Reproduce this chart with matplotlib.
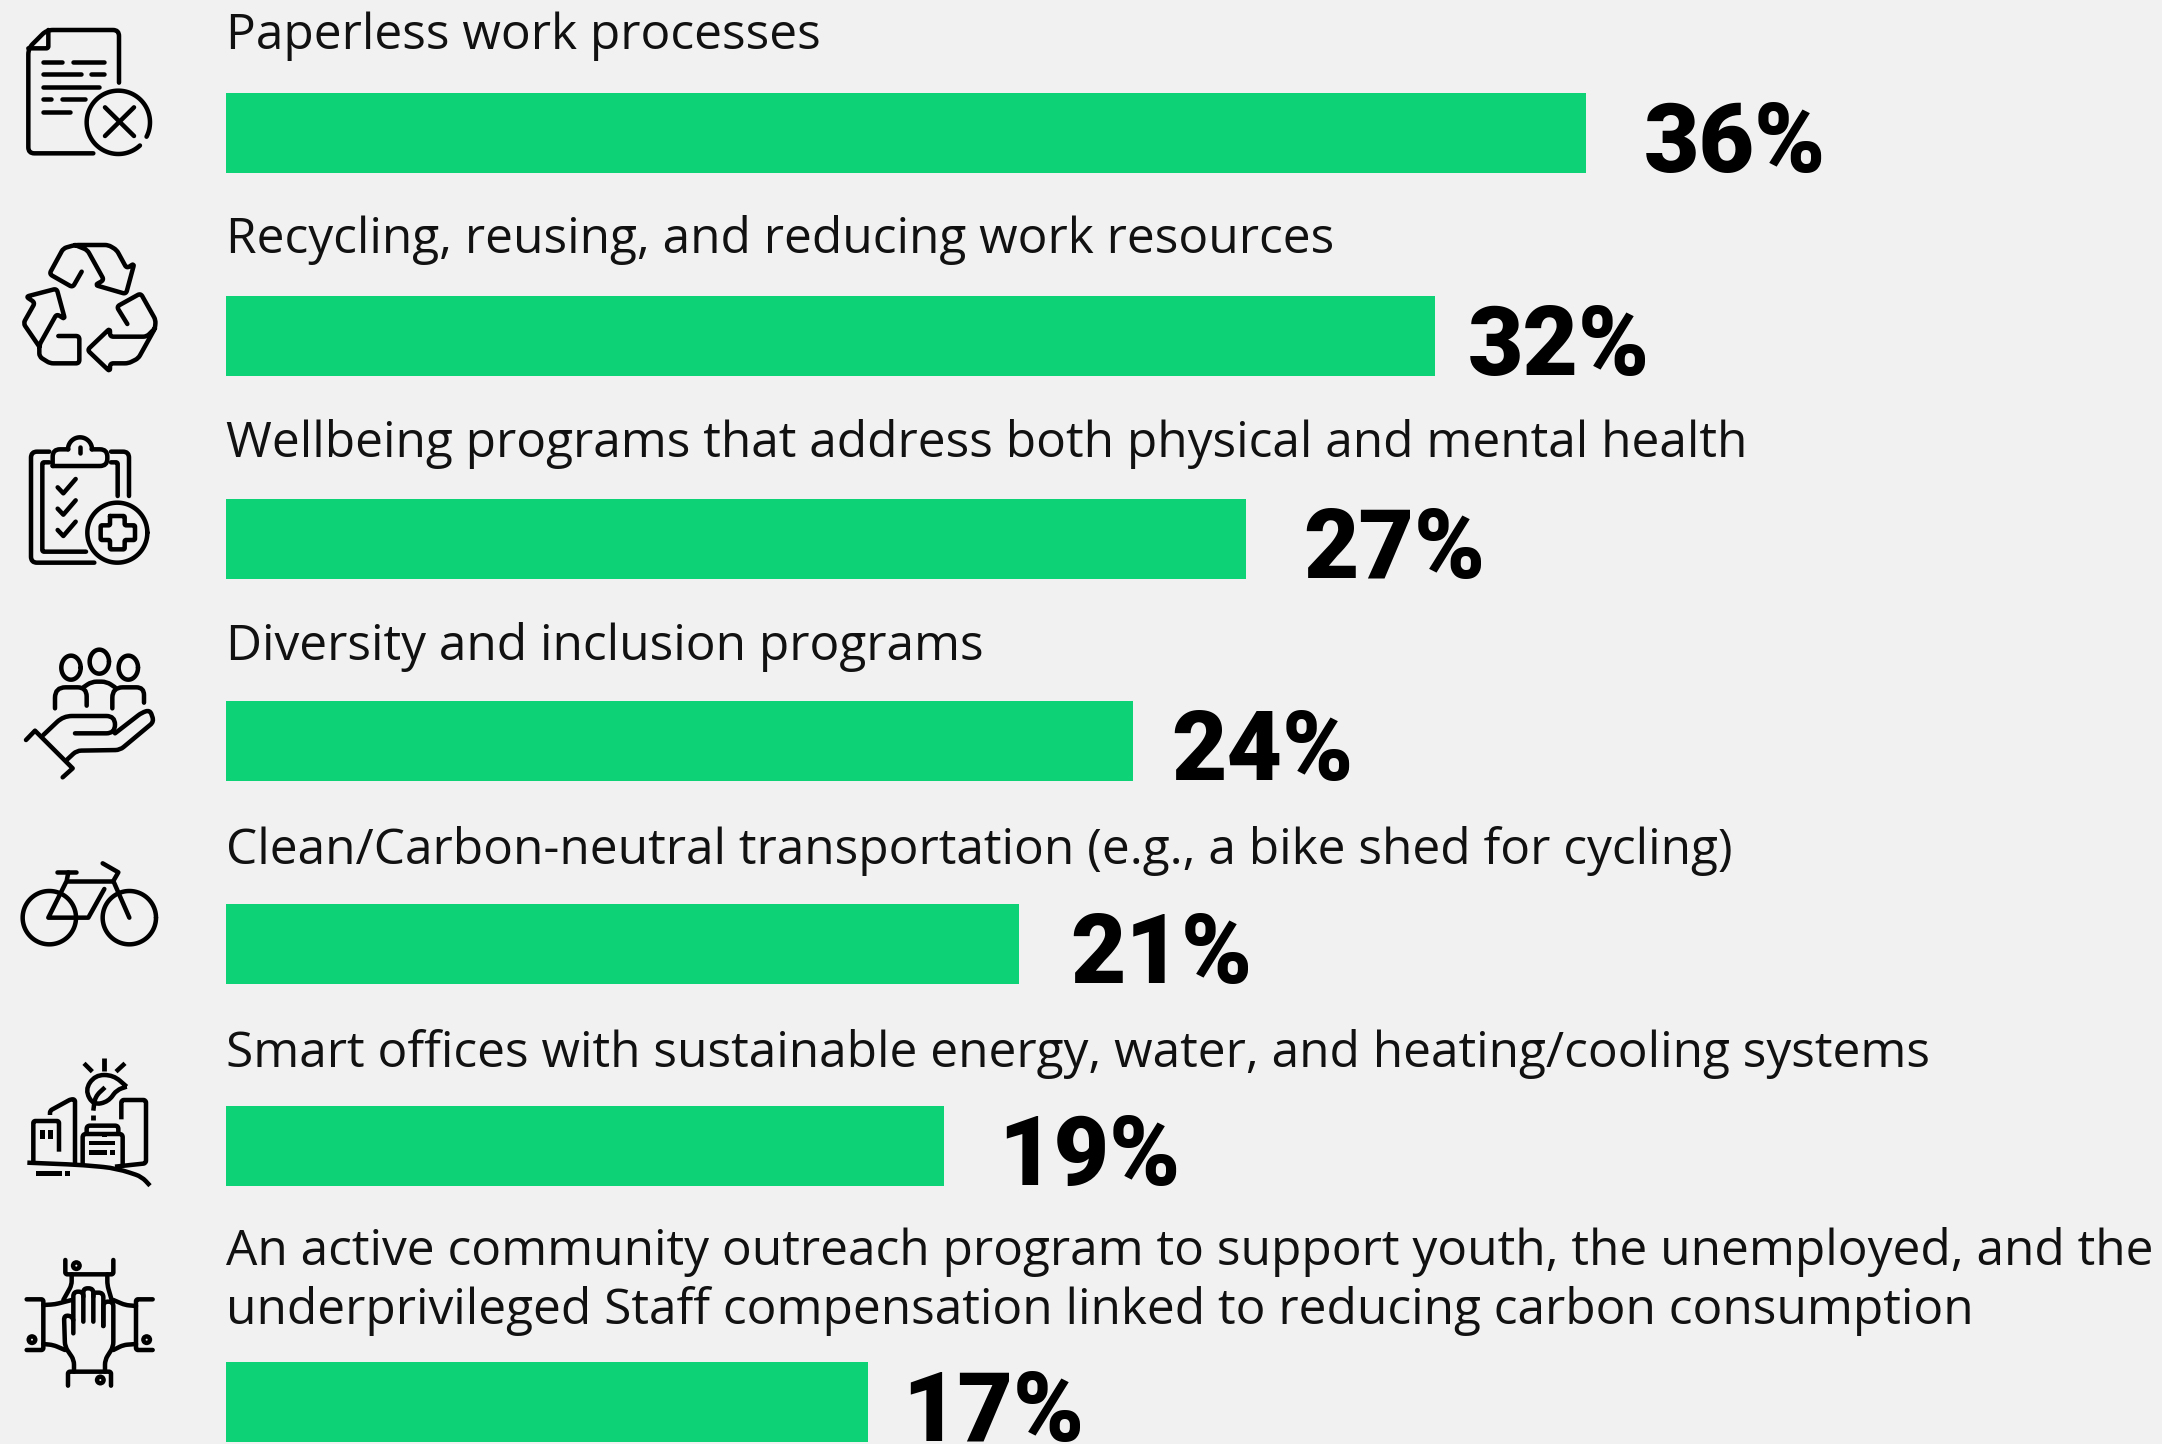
import numpy as np
import matplotlib
matplotlib.use('Agg')
import matplotlib.pyplot as plt
from matplotlib.path import Path
from matplotlib.patches import PathPatch, Rectangle

labels = ['Paperless work processes',
          'Recycling, reusing, and reducing work resources',
          'Wellbeing programs that address both physical and mental health',
          'Diversity and inclusion programs',
          'Clean/Carbon-neutral transportation (e.g., a bike shed for cycling)',
          'Smart offices with sustainable energy, water, and heating/cooling systems',
          'An active community outreach program to support youth, the unemployed, and the\n'
          'underprivileged Staff compensation linked to reducing carbon consumption']
values = [36, 32, 27, 24, 21, 19, 17]

W, H = 2162, 1444
BG = '#f1f1f1'
GREEN = '#0dd276'
bar_tops = [93, 296, 499, 701, 904, 1106, 1362]
bar_h = 80
px_per_pct = 37.78
x0_px = 226
val_gap = [58, 33, 57, 39, 51, 54, 34]
label_base = [49, 253, 457, 660, 864, 1067, 1265]

fig = plt.figure(figsize=(W/100, H/100), dpi=100, facecolor=BG)
ax = fig.add_axes([0, 0, 1, 1])
ax.set_xlim(-x0_px/px_per_pct, (W-x0_px)/px_per_pct)
ax.set_ylim(H, 0)
ax.axis('off')

centers = [t + bar_h/2 for t in bar_tops]
ax.barh(centers, values, height=bar_h, color=GREEN, linewidth=0)

for lab, v, c, g, b in zip(labels, values, centers, val_gap, label_base):
    lines = lab.split('\n')
    for i, ln in enumerate(lines):
        ax.text(0, b + i*59, ln, family='Open Sans', fontsize=35.7, color='#111111',
                ha='left', va='baseline')
    ax.annotate(f'{v}%', (v, c + bar_h/2 - 1), xytext=(g*0.72, 0), textcoords='offset points',
                family='Roboto', weight=900, fontsize=69, color='black',
                ha='left', va='baseline', annotation_clip=False)

# icons, drawn in pixel space
ic = fig.add_axes([0, 0, 1, 1], facecolor='none')
ic.set_xlim(0, W)
ic.set_ylim(H, 0)
ic.axis('off')


def line(pts, y0=0, r=0, lw=4.5, closed=False, cap='round'):
    # pts are read in the 3x zoom crops, r rounds the corners
    p = np.array(pts, float)/3 + [0, y0]
    verts, codes = [p[0]], [Path.MOVETO]
    for k in range(1, len(p)-1):
        a, b, c = p[k-1], p[k], p[k+1]
        d1, d2 = np.linalg.norm(a-b), np.linalg.norm(c-b)
        rr = min(r/3, d1/2, d2/2)
        if rr <= 0:
            verts.append(b)
            codes.append(Path.LINETO)
        else:
            verts += [b + (a-b)*rr/d1, b, b + (c-b)*rr/d2]
            codes += [Path.LINETO, Path.CURVE3, Path.CURVE3]
    verts.append(p[-1])
    codes.append(Path.LINETO)
    ic.add_patch(PathPatch(Path(verts, codes), fill=False, ec='black', lw=lw*0.72,
                           capstyle=cap, joinstyle='round'))


def arc(cx, cy, rx, ry=None, y0=0, t1=0, t2=360, lw=4.5):
    ry = rx if ry is None else ry
    t = np.radians(np.linspace(t1, t2, 120))
    ic.plot((cx + rx*np.cos(t))/3, (cy + ry*np.sin(t))/3 + y0, color='black',
            lw=lw*0.72, solid_capstyle='round')


def dot(cx, cy, y0=0):
    ic.add_patch(plt.Circle((cx/3, cy/3 + y0), 5.5, fc='black', ec='none'))
    ic.add_patch(plt.Circle((cx/3, cy/3 + y0), 1.0, fc=BG, ec='none'))


def block(x1, y1, x2, y2, y0=0):
    ic.add_patch(Rectangle((x1/3, y1/3 + y0), (x2-x1)/3, (y2-y1)/3, fc='black', ec='none'))


# 1 paper
line([(280, 460), (85, 460), (85, 145), (140, 90), (357, 90), (357, 248)], r=18)
line([(85, 145), (145, 145), (145, 90)], r=6)
for a, b, yy in [(130, 185, 185), (218, 312, 185), (130, 243, 222), (273, 312, 222),
                 (130, 296, 260), (130, 152, 298), (185, 254, 298), (130, 210, 336)]:
    line([(a, yy), (b, yy)])
arc(355, 367, 95, t1=47, t2=387)
line([(315, 322), (402, 408)])
line([(402, 322), (315, 408)])

# 2 recycle
line([(245, 815), (218, 862), (148, 822), (190, 745), (225, 735), (325, 735), (350, 750), (380, 805),
      (403, 790), (378, 882), (285, 855), (312, 840), (262, 750), (225, 735)], r=10)
line([(382, 972), (350, 920), (422, 880), (467, 960), (465, 985), (415, 1075), (385, 1090), (330, 1090),
      (330, 1115), (262, 1050), (330, 985), (330, 1010), (440, 1010), (465, 985)], r=10)
line([(175, 1008), (238, 1008), (238, 1090), (150, 1090), (118, 1070), (118, 1035), (170, 942), (195, 958),
      (170, 866), (78, 890), (105, 908), (70, 970), (118, 1040)], r=10)

# 3 clipboard
Y = 400
line([(148, 155), (93, 155), (93, 488), (283, 488)], Y, r=18)
line([(333, 155), (387, 155), (387, 288)], Y, r=18)
line([(148, 187), (127, 187), (127, 455), (258, 455)], Y, r=5)
line([(333, 187), (353, 187), (353, 288)], Y, r=5)
line([(158, 198), (322, 198), (322, 148), (275, 148)], Y, r=22)
line([(158, 198), (158, 148), (205, 148)], Y, r=22)
arc(240, 148, 36, y0=Y, t1=180, t2=360)
line([(240, 140), (240, 160)], Y)
for dy in (0, 64, 128):
    line([(173, 262+dy), (190, 280+dy), (227, 237+dy)], Y)
arc(352, 398, 90, y0=Y)
line([(330, 348), (374, 348), (374, 376), (405, 376), (405, 420), (374, 420), (374, 448), (330, 448),
      (330, 420), (302, 420), (302, 376), (330, 376), (330, 348)], Y, r=4)

# 4 hand
arc(213, 803, 29, 36, y0=Y)
arc(298, 785, 29, 36, y0=Y)
arc(385, 803, 29, 36, y0=Y)
line([(165, 925), (165, 862), (260, 862), (260, 917)], Y, r=35)
line([(250, 862), (275, 845), (320, 845), (345, 862)], Y, r=18)
line([(337, 925), (337, 862), (432, 862), (432, 908)], Y, r=35)
line([(130, 1005), (190, 948), (345, 948), (345, 1000), (225, 1000)], Y, r=26)
line([(345, 1000), (425, 938), (450, 930), (462, 965), (360, 1050), (230, 1052), (200, 1080)], Y, r=14)
line([(78, 1020), (105, 992), (218, 1105), (188, 1132)], Y)

# 5 bike
Y = 800
arc(148, 353, 80, y0=Y)
arc(388, 353, 80, y0=Y)
line([(313, 267), (265, 353), (145, 353), (200, 243), (205, 217)], Y)
line([(172, 217), (228, 217)], Y)
line([(200, 243), (340, 243)], Y)
line([(388, 353), (340, 243), (355, 217), (308, 190)], Y)

# 6 city
Y = 1040
line([(313, 55), (313, 92)], Y, lw=4.8, cap='butt')
line([(252, 70), (277, 95)], Y, cap='butt')
line([(375, 70), (348, 95)], Y, cap='butt')
line([(380, 140), (340, 105), (285, 105), (255, 150), (280, 195), (325, 185), (350, 150), (380, 140)], Y, r=30, cap='butt')
line([(280, 212), (285, 170), (315, 142)], Y, r=20, cap='butt')
line([(280, 225), (280, 240)], Y, lw=4.8, cap='butt')
line([(150, 225), (150, 212), (212, 178), (225, 178), (225, 370)], Y, r=12, cap='butt')
line([(177, 335), (177, 243), (100, 243), (100, 368)], Y, r=6, cap='butt')
block(120, 270, 135, 297, Y)
block(144, 270, 160, 297, Y)
line([(248, 372), (248, 282), (368, 282), (368, 372)], Y, r=10, cap='butt')
line([(260, 282), (260, 257), (355, 257), (355, 282)], Y, r=10, cap='butt')
block(306, 277, 322, 291, Y)
block(268, 304, 345, 316, Y)
block(268, 331, 322, 344, Y)
block(330, 331, 345, 344, Y)
line([(364, 238), (364, 180), (438, 180), (438, 370), (345, 380)], Y, r=8, cap='butt')
line([(82, 368), (250, 375), (350, 385), (425, 410), (450, 437)], Y, r=60, cap='butt')
block(108, 394, 187, 407, Y)
block(195, 394, 210, 407, Y)

# 7 hands
Y = 1120
line([(196, 420), (196, 463), (340, 463), (340, 420)], Y, r=6)
line([(80, 538), (130, 538), (130, 690), (80, 690)], Y, r=6)
line([(458, 538), (408, 538), (408, 690), (458, 690)], Y, r=6)
line([(204, 797), (204, 755), (333, 755), (333, 797)], Y, r=6)
dot(229, 437, Y)
dot(96, 659, Y)
dot(440, 659, Y)
dot(301, 780, Y)
line([(215, 463), (215, 495), (190, 540)], Y, r=12)
line([(322, 463), (322, 495), (335, 540)], Y, r=12)
line([(130, 555), (165, 553), (215, 540)], Y, r=12)
line([(130, 672), (160, 675), (195, 690)], Y, r=12)
line([(408, 558), (375, 555), (340, 540)], Y, r=12)
line([(408, 672), (370, 675), (340, 690)], Y, r=12)
line([(222, 755), (222, 720), (195, 680), (192, 585), (220, 590), (220, 640)], Y, r=14)
line([(315, 755), (315, 720), (340, 680), (340, 545), (310, 545), (310, 618)], Y, r=14)
line([(220, 600), (220, 515), (250, 515), (250, 605)], Y, r=14)
line([(250, 530), (250, 505), (280, 505), (280, 605)], Y, r=14)
line([(280, 530), (280, 518), (310, 518), (310, 618)], Y, r=14)

fig.savefig('out.png', dpi=100, facecolor=BG)
